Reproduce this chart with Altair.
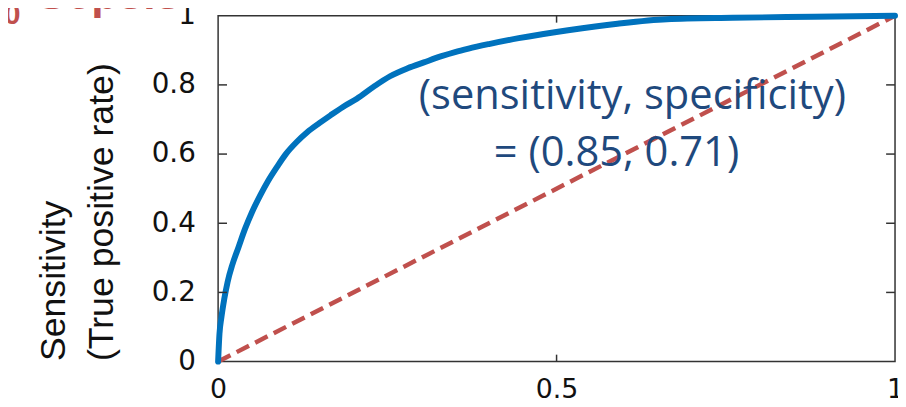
import altair as alt
import pandas as pd

# ROC curve
fpr = [0.0, 0.002, 0.005, 0.009, 0.014, 0.021, 0.03, 0.04, 0.05, 0.062, 0.074, 0.087, 0.1,
       0.116, 0.132, 0.15, 0.166, 0.185, 0.205, 0.23, 0.254, 0.28, 0.304, 0.33, 0.35, 0.37,
       0.40, 0.444, 0.517, 0.59, 0.663, 0.76, 0.88, 1.0]
tpr = [0.0, 0.08, 0.13, 0.18, 0.23, 0.28, 0.33, 0.385, 0.432, 0.48, 0.523, 0.563, 0.60,
       0.635, 0.664, 0.69, 0.712, 0.737, 0.76, 0.795, 0.825, 0.848, 0.865, 0.883, 0.895, 0.905,
       0.918, 0.935, 0.958, 0.977, 0.99, 0.994, 0.997, 1.0]

diag_x = [0.0, 1.0]
diag_y = [0.0, 1.0]

y_ticks = [0, 0.2, 0.4, 0.6, 0.8, 1]
x_ticks = [0, 0.5, 1]
inner_y_ticks = [0.2, 0.4, 0.6, 0.8]
inner_x_ticks = [0.5]

title_lines = ["Sensitivity", "(True positive rate)"]
note_line1 = "(sensitivity, specificity)"
note_line2 = "= (0.85, 0.71)"
red_sub = "0"
red_word = "Sepsis"

W, H = 683, 349
BLUE = "#0072BD"
RED = "#C0504D"
NAVY = "#1F497D"

roc_df = pd.DataFrame({"fpr": fpr, "tpr": tpr})
diag_df = pd.DataFrame({"fpr": diag_x, "tpr": diag_y})
iy_df = pd.DataFrame({"tpr": inner_y_ticks})
ix_df = pd.DataFrame({"fpr": inner_x_ticks})
one = pd.DataFrame({"d": [0]})

xs = alt.Scale(domain=[0, 1], nice=False, zero=False)
ys = alt.Scale(domain=[0, 1], nice=False, zero=False)

x_axis = alt.Axis(values=x_ticks, format=".1~f", grid=False, domain=False, ticks=False,
                  labelFont="DejaVu Sans", labelFontSize=27, labelColor="#111",
                  labelPadding=15, labelFlush=False, labelAngle=0, title=None)
y_axis = alt.Axis(values=y_ticks, format=".1~f", grid=False, domain=False, ticks=False,
                  labelFont="DejaVu Sans", labelFontSize=28, labelColor="#111",
                  labelPadding=23, labelFlush=False,
                  title=title_lines, titleFont="Liberation Sans", titleFontSize=36,
                  titleFontWeight="normal", titleColor="#111", titleAngle=270,
                  titleAlign="left", titleBaseline="top", titleLineHeight=48,
                  titleX=-183, titleY=348)

roc = alt.Chart(roc_df).mark_line(color=BLUE, strokeWidth=6, strokeCap="round",
                                  strokeJoin="round", interpolate="monotone").encode(
    x=alt.X("fpr:Q", scale=xs, axis=x_axis),
    y=alt.Y("tpr:Q", scale=ys, axis=y_axis),
    order=alt.Order("fpr:Q"),
)

diag = alt.Chart(diag_df).mark_line(color=RED, strokeWidth=4.5, strokeDash=[14, 7]).encode(
    x=alt.X("fpr:Q", scale=xs),
    y=alt.Y("tpr:Q", scale=ys),
)

tick_style = dict(color="#333", strokeWidth=1.5)
left_ticks = alt.Chart(iy_df).mark_rule(**tick_style).encode(
    y=alt.Y("tpr:Q", scale=ys), x=alt.value(0), x2=alt.value(9))
right_ticks = alt.Chart(iy_df).mark_rule(**tick_style).encode(
    y=alt.Y("tpr:Q", scale=ys), x=alt.value(W - 9), x2=alt.value(W))
bottom_ticks = alt.Chart(ix_df).mark_rule(**tick_style).encode(
    x=alt.X("fpr:Q", scale=xs), y=alt.value(H - 7), y2=alt.value(H))
top_ticks = alt.Chart(ix_df).mark_rule(**tick_style).encode(
    x=alt.X("fpr:Q", scale=xs), y=alt.value(0), y2=alt.value(7))

note1 = alt.Chart(one).mark_text(text=note_line1, font="Open Sans", fontSize=42,
                                 color=NAVY, align="center", baseline="alphabetic").encode(
    x=alt.value(418), y=alt.value(94))
note2 = alt.Chart(one).mark_text(text=note_line2, font="Open Sans", fontSize=42,
                                 color=NAVY, align="center", baseline="alphabetic").encode(
    x=alt.value(402), y=alt.value(152))

red1 = alt.Chart(one).mark_text(text=red_sub, font="Liberation Sans", fontSize=30,
                                fontWeight="bold", color=RED, align="left",
                                baseline="alphabetic").encode(
    x=alt.value(-216), y=alt.value(8))
red2 = alt.Chart(one).mark_text(text=red_word, font="Liberation Sans", fontSize=45,
                                fontWeight="bold", color=RED, align="left",
                                baseline="alphabetic").encode(
    x=alt.value(-183), y=alt.value(-7))

chart = alt.layer(
    diag, roc, left_ticks, right_ticks, bottom_ticks, top_ticks, note1, note2, red1, red2
).properties(
    width=W, height=H,
    autosize=alt.AutoSizeParams(type="none"),
    padding={"left": 212, "top": 6, "right": 3, "bottom": 42},
    background="white",
).configure_view(
    stroke="#333", strokeWidth=1.5
)

chart.save("out.html", embed_options={"renderer": "svg", "actions": False})
